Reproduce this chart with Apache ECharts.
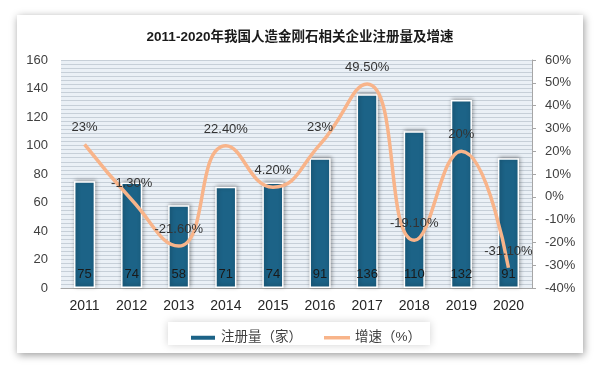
<!DOCTYPE html>
<html><head><meta charset="utf-8">
<script src="https://cdn.jsdelivr.net/npm/echarts@6/dist/echarts.min.js"></script>
<style>html,body{margin:0;padding:0;background:#fff}#c{width:600px;height:369px}</style>
</head><body><div id="c"></div>
<script>
const years = ['2011','2012','2013','2014','2015','2016','2017','2018','2019','2020'];
const registrations = [75, 74, 58, 71, 74, 91, 136, 110, 132, 91];
const growth = [23, -1.3, -21.6, 22.4, 4.2, 23, 49.5, -19.1, 20, -31.1];
const growthLabels = ['23%','-1.30%','-21.60%','22.40%','4.20%','23%','49.50%','-19.10%','20%','-31.10%'];
const leftTicks = {min: 0, max: 160, interval: 20};
const rightTicks = {min: -40, max: 60, interval: 10};

const FONT = 'Liberation Sans, Arial, "Noto Sans CJK SC", sans-serif';
const chart = echarts.init(document.getElementById('c'), null, {renderer: 'canvas'});
chart.setOption({
  animation: false,
  textStyle: {fontFamily: FONT},
  graphic: [
    {type: 'rect', z: -10, shape: {x: 17, y: 15, width: 566, height: 338},
     style: {fill: '#fff', shadowBlur: 8, shadowColor: 'rgba(0,0,0,0.4)', shadowOffsetX: 1, shadowOffsetY: 2}},
    {type: 'rect', z: -5, shape: {x: 168, y: 322, width: 262, height: 23},
     style: {fill: '#fff', shadowBlur: 8, shadowColor: 'rgba(0,0,0,0.18)', shadowOffsetX: 0, shadowOffsetY: 0}}
  ],
  title: {
    text: '2011-2020年我国人造金刚石相关企业注册量及增速',
    left: 'center', top: 26,
    textStyle: {fontSize: 13.5, fontWeight: 'bold', color: '#1a1a1a', fontFamily: FONT}
  },
  legend: {
    left: 184, top: 326, itemGap: 22, itemWidth: 26, itemHeight: 6,
    textStyle: {fontSize: 13.5, color: '#404040', fontFamily: FONT},
    data: [
      {name: '注册量（家）', icon: 'rect'},
      {name: '增速（%）', icon: 'path://M0,0 L30,0 L30,4 L0,4 Z'}
    ]
  },
  grid: {left: 61, right: 68, top: 60, bottom: 81, show: true, backgroundColor: '#eaf0f6', borderWidth: 0},
  xAxis: {
    type: 'category', data: years,
    axisLine: {lineStyle: {color: '#a6a6a6', width: 1}},
    axisTick: {show: false},
    axisLabel: {fontSize: 14, color: '#262626', margin: 11}
  },
  yAxis: [
    {type: 'value', min: leftTicks.min, max: leftTicks.max, interval: leftTicks.interval,
     axisLine: {show: false}, axisTick: {show: false},
     axisLabel: {fontSize: 13, color: '#404040', margin: 13},
     splitLine: {lineStyle: {color: '#c6cfd8', width: 1}},
     minorTick: {show: false, splitNumber: 7},
     minorSplitLine: {show: true, lineStyle: {color: '#c6cfd8', width: 1}}},
    {type: 'value', min: rightTicks.min, max: rightTicks.max, interval: rightTicks.interval,
     position: 'right',
     axisLine: {show: true, lineStyle: {color: '#a6a6a6', width: 1}},
     axisTick: {show: true, inside: false, length: 4, lineStyle: {color: '#a6a6a6'}},
     axisLabel: {fontSize: 13, color: '#404040', margin: 13, formatter: v => v + '%'},
     splitLine: {show: false}}
  ],
  series: [
    {name: '注册量（家）', type: 'bar', data: registrations, barWidth: '45%',
     itemStyle: {color: '#1c6387', borderColor: '#ffffff', borderWidth: 1.5,
                 shadowBlur: 4, shadowColor: 'rgba(0,0,0,0.35)', shadowOffsetX: 1, shadowOffsetY: -1},
     label: {show: true, position: 'insideBottom', distance: 7, fontSize: 13, color: '#1a1a1a'}},
    {name: '增速（%）', type: 'line', yAxisIndex: 1, data: growth, smooth: 0.5,
     symbol: 'circle', symbolSize: 0, showSymbol: true,
     lineStyle: {color: '#f8b48a', width: 3.5},
     itemStyle: {color: '#f8b48a'},
     label: {show: true, position: 'top', distance: 10, fontSize: 13, color: '#333333',
             formatter: p => growthLabels[p.dataIndex]}}
  ]
});
</script></body></html>
